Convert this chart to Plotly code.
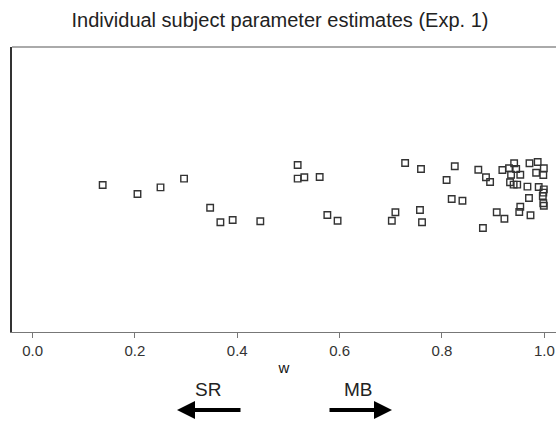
import plotly.graph_objects as go

# Fitted mixing weight w for each subject (Exp. 1)
w_estimates = [
    0.137, 0.205, 0.250, 0.296, 0.347, 0.367, 0.391, 0.445,
    0.518, 0.518, 0.531, 0.561, 0.576, 0.596,
    0.709, 0.702, 0.728, 0.759, 0.757, 0.761,
    0.809, 0.825, 0.819, 0.840, 0.871, 0.886, 0.894, 0.880,
    0.907, 0.922, 0.918, 0.931, 0.941, 0.945, 0.935, 0.953,
    0.933, 0.940, 0.947, 0.967, 0.953, 0.951, 0.973, 0.970,
    0.971, 0.987, 0.999, 0.984, 0.998, 0.989, 0.999, 0.998,
    0.997, 0.998, 0.999,
]

# Vertical jitter so overlapping subjects stay visible
jitter = [
    0.032, -0.032, 0.015, 0.076, -0.128, -0.230, -0.214, -0.223,
    0.172, 0.076, 0.086, 0.088, -0.179, -0.219,
    -0.160, -0.219, 0.186, 0.144, -0.144, -0.230,
    0.067, 0.163, -0.067, -0.079, 0.139, 0.086, 0.053, -0.270,
    -0.160, -0.205, 0.137, 0.149, 0.184, 0.144, 0.104, 0.104,
    0.051, 0.034, 0.034, 0.020, -0.121, -0.158, -0.181, -0.060,
    0.184, 0.193, 0.149, 0.118, 0.102, 0.018, 0.001, -0.022,
    -0.046, -0.097, -0.114,
]

tick_vals = [0.0, 0.2, 0.4, 0.6, 0.8, 1.0]
tick_text = ["0.0", "0.2", "0.4", "0.6", "0.8", "1.0"]

FONT = "Liberation Sans, Arial, Helvetica, sans-serif"

fig = go.Figure()
fig.add_trace(go.Scatter(
    x=w_estimates,
    y=jitter,
    mode="markers",
    marker=dict(symbol="square-open", size=6.5, color="#333333",
                line=dict(width=1.4, color="#333333")),
    showlegend=False,
    hoverinfo="x",
))

fig.update_layout(
    width=556,
    height=423,
    margin=dict(l=12, r=0, t=47, b=91),
    paper_bgcolor="white",
    plot_bgcolor="white",
    font=dict(family=FONT, color="#333333", size=15),
    title=dict(
        text="Individual subject parameter estimates (Exp. 1)",
        x=(280 - 12) / 544, xref="paper", xanchor="center",
        y=1 - 20 / 423, yref="container", yanchor="middle",
        font=dict(family=FONT, size=20, color="#222222"),
    ),
    xaxis=dict(
        range=[-0.0402, 1.0228],
        tickvals=tick_vals,
        ticktext=tick_text,
        ticks="outside",
        ticklen=5,
        tickwidth=1,
        tickcolor="#777777",
        showline=True,
        linecolor="#777777",
        linewidth=1.2,
        showgrid=False,
        zeroline=False,
        tickfont=dict(size=15, color="#333333"),
        title=dict(text="w", standoff=4, font=dict(size=15, color="#111111")),
    ),
    yaxis=dict(
        range=[-1, 1],
        showticklabels=False,
        ticks="",
        showline=True,
        linecolor="#333333",
        linewidth=1.5,
        showgrid=False,
        zeroline=False,
    ),
    shapes=[
        dict(type="line", xref="paper", yref="paper", x0=0, x1=1, y0=1, y1=1,
             line=dict(color="#aaaaaa", width=2)),
    ],
    annotations=[
        dict(text="SR", xref="paper", yref="paper", x=(208 - 12) / 544,
             y=-(389 - 332) / 285, showarrow=False,
             font=dict(size=19, color="#222222"), xanchor="center", yanchor="middle"),
        dict(text="MB", xref="paper", yref="paper", x=(358 - 12) / 544,
             y=-(389 - 332) / 285, showarrow=False,
             font=dict(size=19, color="#222222"), xanchor="center", yanchor="middle"),
        # leftward arrow (towards SR)
        dict(text="", xref="paper", yref="paper", x=(177 - 12) / 544,
             y=-(410 - 332) / 285, ax=65, ay=0, axref="pixel", ayref="pixel",
             showarrow=True, arrowhead=2, arrowsize=0.9, arrowwidth=4,
             arrowcolor="black", standoff=0, startstandoff=0),
        # rightward arrow (towards MB)
        dict(text="", xref="paper", yref="paper", x=(392 - 12) / 544,
             y=-(410 - 332) / 285, ax=-64, ay=0, axref="pixel", ayref="pixel",
             showarrow=True, arrowhead=2, arrowsize=0.9, arrowwidth=4,
             arrowcolor="black", standoff=0, startstandoff=0),
    ],
)

fig.write_html("out.html")
